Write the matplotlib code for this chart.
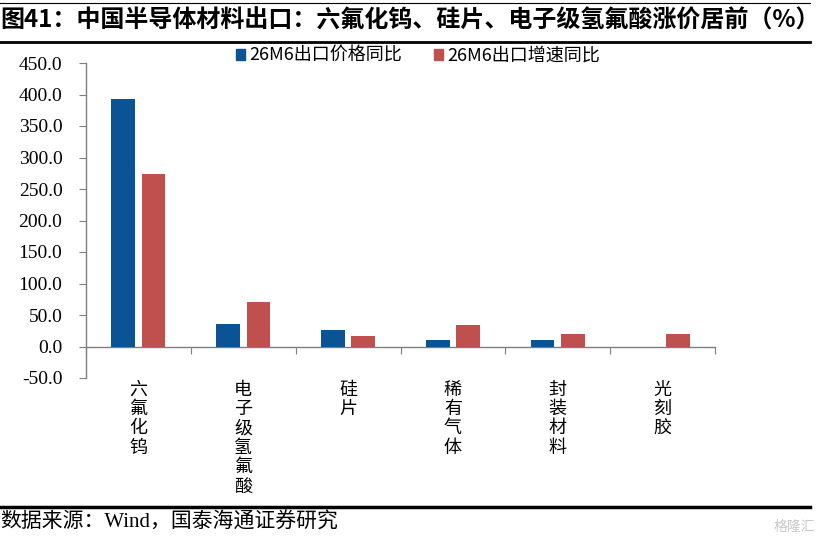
import matplotlib
matplotlib.use("Agg")
import matplotlib.pyplot as plt
from matplotlib.lines import Line2D
from matplotlib.patches import Patch
import numpy as np

categories = ["六氟化钨", "电子级氢氟酸", "硅片", "稀有气体", "封装材料", "光刻胶"]
price_yoy = [393.0, 35.3, 26.3, 10.5, 10.0, -1.5]
growth_yoy = [274.0, 70.5, 16.8, 34.7, 19.5, 20.0]
series_names = ["26M6出口价格同比", "26M6出口增速同比"]
yticks = [-50, 0, 50, 100, 150, 200, 250, 300, 350, 400, 450]
title = "图41：中国半导体材料出口：六氟化钨、硅片、电子级氢氟酸涨价居前（%）"
source = "数据来源：Wind，国泰海通证券研究"

BLUE = "#0A5394"
RED = "#C0504D"
CJK = ["Noto Sans CJK SC", "DejaVu Sans"]
NUM = ["Liberation Serif", "Noto Sans CJK SC"]

plt.rcParams['font.family'] = CJK

fig = plt.figure(figsize=(8.21, 5.45), dpi=100)
ax = fig.add_axes([86/821, 1-378/545, (715-86)/821, (378-63)/545])

x = np.arange(len(categories))
w = 0.225
ax.bar(x - 0.145, price_yoy, width=w, color=BLUE, label=series_names[0], zorder=3)
ax.bar(x + 0.145, growth_yoy, width=w, color=RED, label=series_names[1], zorder=3)

ax.set_xlim(-0.5, len(categories) - 0.5)
ax.set_ylim(-50, 450)
ax.set_yticks(yticks)
ax.set_yticklabels([f"{v:.1f}" for v in yticks], fontfamily=NUM, fontsize=14)

for s in ["top", "right"]:
    ax.spines[s].set_visible(False)
ax.spines["bottom"].set_position(("data", 0))
for s in ["left", "bottom"]:
    ax.spines[s].set_color("#7f7f7f")
    ax.spines[s].set_linewidth(1.0)
    ax.spines[s].set_zorder(2)

ax.set_xticks(np.arange(len(categories) + 1) - 0.5)
ax.set_xticklabels([])
ax.tick_params(axis="x", direction="out", length=5, color="#7f7f7f")
ax.tick_params(axis="y", direction="out", length=5, color="#7f7f7f", pad=12)

for i, c in enumerate(categories):
    ax.text(i, -54, "\n".join(c), ha="center", va="top", fontsize=13,
            linespacing=1.1, fontfamily=CJK, transform=ax.transData)

handles = [Patch(color=BLUE), Patch(color=RED)]
fig.legend(handles, series_names, loc="center", bbox_to_anchor=(418/821, 1-56/545),
           ncol=2, frameon=False, handlelength=0.5, handleheight=0.5,
           handletextpad=0.2, columnspacing=1.8, prop={"family": CJK, "size": 13})

fig.text(0.0, 1-21/545, title, ha="left", va="center", fontsize=17.3,
         fontweight="bold", fontfamily=CJK)
fig.add_artist(Line2D([0, 810/821], [1-3/545, 1-3/545], color="black", lw=0.8,
                      transform=fig.transFigure))
fig.add_artist(Line2D([0, 810/821], [1-42/545, 1-42/545], color="black", lw=2.0,
                      transform=fig.transFigure))
fig.add_artist(Line2D([0, 810/821], [1-507/545, 1-507/545], color="black", lw=2.5,
                      transform=fig.transFigure))
fig.text(0.0, 1-523/545, source, ha="left", va="center", fontsize=15, fontfamily=NUM)
fig.text(815/821, 1-527/545, "格隆汇", ha="right", va="center", fontsize=10,
         color="#c8c8c8", fontfamily=CJK)

fig.savefig("out.png", dpi=100)
